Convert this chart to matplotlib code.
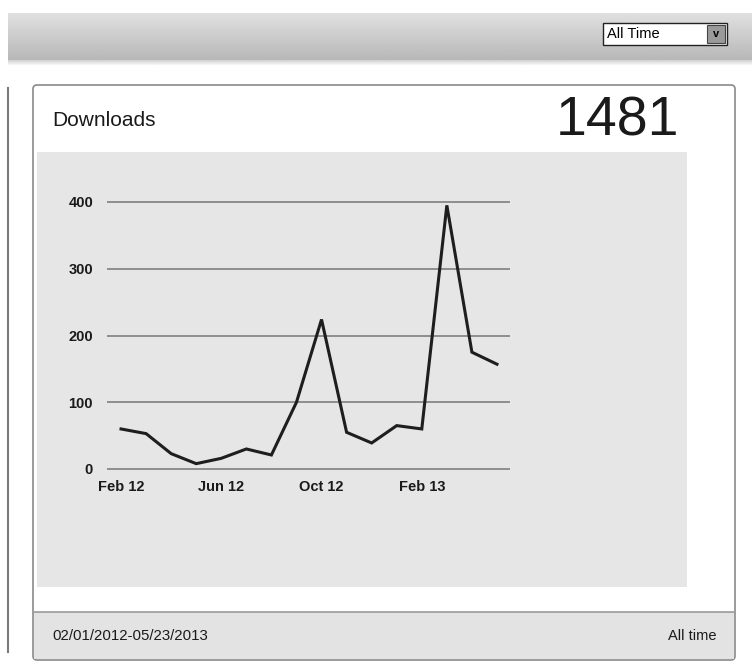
import numpy as np
import matplotlib
matplotlib.use("Agg")
import matplotlib.pyplot as plt
from matplotlib.patches import Rectangle, FancyBboxPatch

plt.rcParams['font.family'] = ['Liberation Sans', 'DejaVu Sans']

# monthly downloads, Feb 2012 .. May 2013
months = ["Feb 12", "Mar 12", "Apr 12", "May 12", "Jun 12", "Jul 12", "Aug 12", "Sep 12",
          "Oct 12", "Nov 12", "Dec 12", "Jan 13", "Feb 13", "Mar 13", "Apr 13", "May 13"]
downloads = [60, 53, 23, 8, 16, 30, 21, 100, 224, 55, 39, 65, 60, 395, 175, 157]
yticks = [0, 100, 200, 300, 400]
xtick_labels = ["Feb 12", "Jun 12", "Oct 12", "Feb 13"]
total = sum(downloads)

W, H = 752, 666
fig = plt.figure(figsize=(W / 100, H / 100), dpi=100)
fig.patch.set_facecolor("white")

# background "page" axes in pixel coords
bg = fig.add_axes([0, 0, 1, 1])
bg.set_xlim(0, W)
bg.set_ylim(H, 0)
bg.axis("off")

# top toolbar with gradient
grad = np.linspace(0.88, 0.72, 50).reshape(-1, 1)
bg.imshow(grad, cmap="gray", vmin=0, vmax=1, extent=[8, W, 60, 13], aspect="auto", zorder=1)
shadow = np.linspace(0.82, 1.0, 10).reshape(-1, 1)
bg.imshow(shadow, cmap="gray", vmin=0, vmax=1, extent=[8, W, 66, 60], aspect="auto", zorder=1)

# dropdown
bg.add_patch(Rectangle((603, 23), 124, 22, facecolor="white", edgecolor="#222222", lw=1, zorder=2))
bg.text(607, 34.5, "All Time", fontsize=10.5, va="center", ha="left", zorder=3)
bg.add_patch(Rectangle((707, 25), 18, 18, facecolor="#9a9a9a", edgecolor="#444444", lw=0.8, zorder=3))
bg.text(716, 34, "v", fontsize=8, fontweight="bold", va="center", ha="center", zorder=4)

# left border line
bg.plot([8, 8], [88, 652], color="#7a7a7a", lw=1.5, zorder=1)

# panel
bg.add_patch(FancyBboxPatch((33, 85), 702, 575, boxstyle="round,pad=0,rounding_size=4",
                            facecolor="white", edgecolor="#8a8a8a", lw=1.2, zorder=1))
# chart area
bg.add_patch(Rectangle((37, 152), 650, 435, facecolor="#e6e6e6", edgecolor="none", zorder=2))
# footer
bg.add_patch(Rectangle((34, 612), 700, 47, facecolor="#e3e3e3", edgecolor="none", zorder=2))
bg.plot([34, 734], [612, 612], color="#9a9a9a", lw=1.2, zorder=3)

bg.text(52, 121, "Downloads", fontsize=15, va="center", ha="left", color="#1a1a1a", zorder=3)
bg.text(679, 122, str(total), fontsize=40, va="center", ha="right", color="#1a1a1a", zorder=3)
bg.text(52, 636, "02/01/2012-05/23/2013", fontsize=10.8, va="center", ha="left", color="#1a1a1a", zorder=3)
bg.text(716, 636, "All time", fontsize=10.5, va="center", ha="right", color="#1a1a1a", zorder=3)

# chart axes, placed by pixels
x0_px, x1_px = 107, 510
y0_px, y400_px = 469, 202
per_unit = (y0_px - y400_px) / 400.0
pad = 10
bot_px = y0_px + pad * per_unit
top_px = y400_px - pad * per_unit
ax = fig.add_axes([x0_px / W, 1 - bot_px / H, (x1_px - x0_px) / W, (bot_px - top_px) / H])
ax.set_facecolor("none")
x = np.arange(len(months))
ax.set_xlim(-0.56, 15.52)
ax.set_ylim(-pad, 400 + pad)
for v in yticks:
    ax.axhline(v, color="#7f7f7f", lw=1.2, zorder=1)
ax.plot(x, downloads, color="#1e1e1e", lw=2.2, zorder=3, solid_joinstyle="miter")
for s in ax.spines.values():
    s.set_visible(False)
ax.set_yticks(yticks)
ax.set_yticklabels([str(v) for v in yticks], fontsize=10.5, fontweight="bold", color="#1a1a1a")
ax.set_xticks([months.index(m) for m in xtick_labels])
ax.set_xticklabels(xtick_labels, fontsize=10.5, fontweight="bold", color="#1a1a1a")
ax.tick_params(length=0, axis="y", pad=10)
ax.tick_params(length=0, axis="x", pad=3)

fig.savefig("out.png", dpi=100, facecolor="white")
